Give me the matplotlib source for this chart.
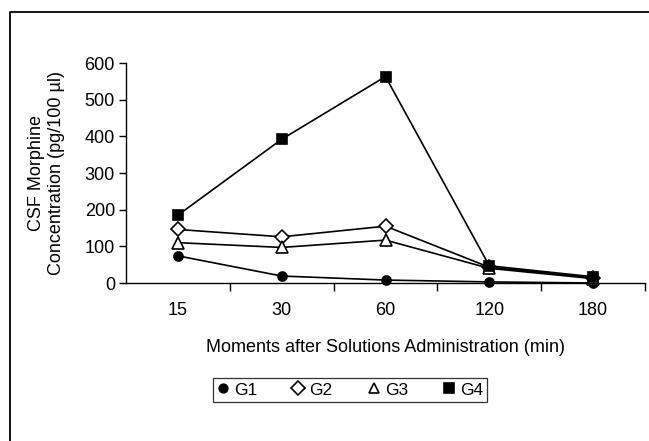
import numpy as np
import matplotlib
matplotlib.use("Agg")
import matplotlib.pyplot as plt
from matplotlib.lines import Line2D

plt.rcParams['font.family'] = ['Liberation Sans', 'DejaVu Sans']

moments = ["15", "30", "60", "120", "180"]
g1 = [74, 19, 8, 3, 0]
g2 = [146, 126, 155, 43, 15]
g3 = [110, 97, 117, 40, 12]
g4 = [185, 392, 563, 47, 17]

series = [
    ("G1", g1, dict(marker="o", markersize=6.5, markerfacecolor="black")),
    ("G2", g2, dict(marker="D", markersize=7, markerfacecolor="white")),
    ("G3", g3, dict(marker="^", markersize=8, markerfacecolor="white")),
    ("G4", g4, dict(marker="s", markersize=7, markerfacecolor="black")),
]

fig = plt.figure(figsize=(6.49, 4.41), dpi=100)
ax = fig.add_axes([126 / 649, 1 - 283 / 441, 519 / 649, 220 / 441])

x = np.arange(len(moments))
for name, vals, style in series:
    ax.plot(x, vals, color="black", linewidth=1.2, markeredgecolor="black",
            markeredgewidth=1.2, label=name, clip_on=False, **style)

ax.set_xlim(-0.5, len(moments) - 0.5)
ax.set_ylim(0, 600)
ax.set_yticks(range(0, 601, 100))
ax.set_xticks(x)
ax.set_xticklabels(moments)
ax.set_xticks(np.arange(0.5, len(moments), 1), minor=True)
ax.tick_params(axis="x", which="major", length=0, pad=14, labelsize=13)
ax.tick_params(axis="x", which="minor", length=6, width=1, direction="out")
ax.tick_params(axis="y", length=5, width=1, direction="out", labelsize=13, pad=3)
for side in ["top", "right"]:
    ax.spines[side].set_visible(False)
for side in ["left", "bottom"]:
    ax.spines[side].set_linewidth(1)

ax.set_xlabel("Moments after Solutions Administration (min)", fontsize=13, labelpad=14)
ax.set_ylabel("CSF Morphine\nConcentration (pg/100 µl)", fontsize=13, labelpad=14)

leg = fig.legend(loc="center", bbox_to_anchor=(350 / 649, 1 - 390 / 441), ncol=4,
                 frameon=True, fancybox=False, fontsize=12.5, handlelength=0.7,
                 handletextpad=0.3, columnspacing=2.0, borderpad=0.25,
                 markerscale=0.95)
leg.get_frame().set_edgecolor("black")
leg.get_frame().set_linewidth(0.9)
for h in leg.get_lines():
    h.set_linestyle("none")

# outer frame lines (top and left)
fig.add_artist(Line2D([9.5 / 649, 9.5 / 649, 1], [0, 1 - 12 / 441, 1 - 12 / 441],
                      color="black", linewidth=1.3))

fig.savefig("out.png", dpi=100)
